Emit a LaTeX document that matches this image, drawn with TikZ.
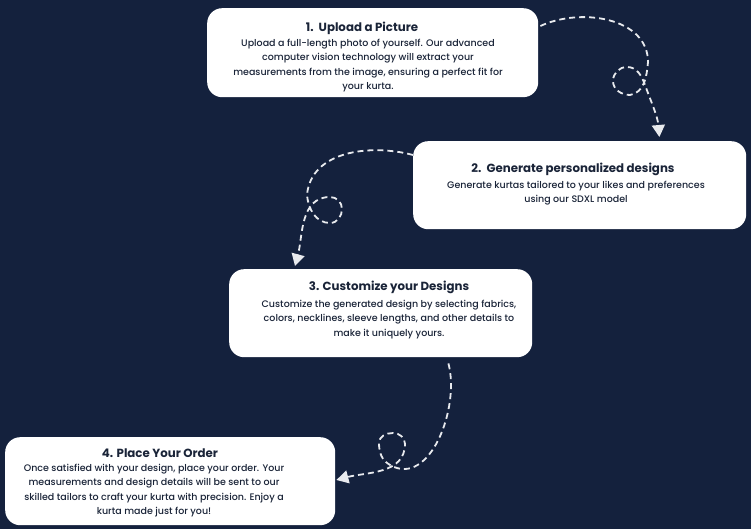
\documentclass[tikz,border=0pt]{standalone}
\usepackage{fontspec}
\setmainfont{Poppins}
\newfontfamily\bodyfont{Poppins Medium}
\usetikzlibrary{arrows.meta}
\definecolor{bg}{HTML}{14213D}
\definecolor{ink}{HTML}{1A2438}
\definecolor{dashc}{HTML}{E8EAEE}
\tikzset{
  card/.style={fill=white, draw=none, rounded corners=15pt, inner sep=0pt, anchor=north west},
  ttl/.style={text=ink, inner sep=0pt, font=\fontsize{11.8}{13}\selectfont\bfseries},
  body/.style={text=ink, inner sep=0pt, align=center, font=\bodyfont\fontsize{9.5}{14.5}\selectfont},
  flow/.style={dashc, line width=1.8pt, dash pattern=on 6pt off 4pt,
     -{Triangle[width=13pt,length=12pt]}},
}
\begin{document}
\begin{tikzpicture}[x=1pt,y=1pt]
\useasboundingbox (0,0) rectangle (751,-529);
\fill[bg] (0,0) rectangle (751,-529);

\node[card, minimum width=331pt, minimum height=89pt] (b1) at (207,-8) {};
\node[card, minimum width=333pt, minimum height=88pt] (b2) at (413,-141) {};
\node[card, minimum width=303pt, minimum height=88pt] (b3) at (229,-269) {};
\node[card, minimum width=330pt, minimum height=88pt] (b4) at (5,-437) {};

\node[ttl] (h1) at (362,-28) {1.\ \ Upload a Picture};
\node[body] (p1) at (368,-65.5) {Upload a full-length photo of yourself. Our advanced\\computer vision technology will extract your\\measurements from the image, ensuring a perfect fit for\\your kurta.};

\node[ttl] (h2) at (573,-169) {2.\ \ Generate personalized designs};
\node[body] (p2) at (576,-193) {Generate kurtas tailored to your likes and preferences\\using our SDXL model};

\node[ttl] (h3) at (389,-287) {3. Customize your Designs};
\node[body] (p3) at (389,-319.5) {Customize the generated design by selecting fabrics,\\colors, necklines, sleeve lengths, and other details to\\make it uniquely yours.};

\node[ttl] (h4) at (160,-453) {4. Place Your Order};
\node[body] (p4) at (154,-490.5) {Once satisfied with your design, place your order. Your\\measurements and design details will be sent to our\\skilled tailors to craft your kurta with precision. Enjoy a\\kurta made just for you!};

% connector 1 -> 2
\coordinate (s1) at ([xshift=2pt,yshift=-18pt]b1.north east);
\coordinate (e1) at ([xshift=-87pt,yshift=4pt]b2.north east);
\draw[flow] (s1) to[out=25,in=90] (648,-62) to[out=-95,in=10] (630,-95)
  to[out=180,in=-90] (613,-81) to[out=90,in=180] (627,-67)
  to[out=0,in=110] (645,-85) to[out=-70,in=95] (e1);

% connector 2 -> 3
\coordinate (s2) at ([yshift=-14pt]b2.north west);
\coordinate (e2) at ([xshift=66pt,yshift=3pt]b3.north west);
\draw[flow] (s2) to[out=165,in=85] (307,-195) to[out=-85,in=180] (330,-223)
  to[out=0,in=-90] (342,-209) to[out=90,in=0] (330,-197)
  to[out=180,in=75] (e2);

% connector 3 -> 4
\coordinate (s3) at ([xshift=-84pt,yshift=-6pt]b3.south east);
\coordinate (e4) at ([xshift=1pt,yshift=-43pt]b4.north east);
\draw[flow] (s3) to[out=-75,in=-30] (390,-465) to[out=150,in=-90] (379,-443)
  to[out=90,in=180] (393,-433) to[out=0,in=90] (405,-444)
  to[out=-90,in=15] (e4);
\end{tikzpicture}
\end{document}
